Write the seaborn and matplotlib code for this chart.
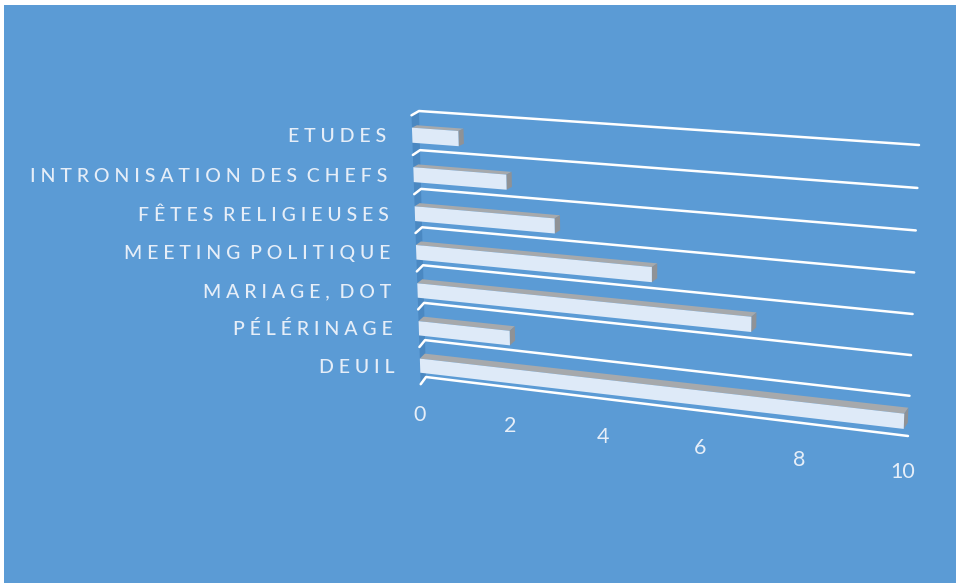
import numpy as np
import matplotlib
matplotlib.use("Agg")
import matplotlib.pyplot as plt
from matplotlib.patches import Polygon
from matplotlib.transforms import Affine2D, Transform
import seaborn as sns

# Chart data
categories = ["ETUDES", "INTRONISATION DES CHEFS", "FÊTES RELIGIEUSES",
              "MEETING POLITIQUE", "MARIAGE, DOT", "PÉLÉRINAGE", "DEUIL"]
values = [1, 2, 3, 5, 7, 2, 10]
value_ticks = [0, 2, 4, 6, 8, 10]

# Colours
BACKGROUND = "#5B9BD5"
SIDE_WALL = "#4A88C2"
FACE = "#DEEAF8"
TOP_FACE = "#A6A9AC"
END_FACE = "#8F9296"
TEXT = "#E6EEF8"
WIDTH, HEIGHT = 956, 583
BAR_WIDTH = 0.38
VALUE_MAX = 10
ROW_TOP, ROW_BOTTOM = -0.5, len(categories) - 0.5


class PlaneProjection(Transform):
    """Perspective mapping of (value, row) onto a plane given by its four corners."""
    input_dims = output_dims = 2
    is_separable = False
    has_inverse = False

    def __init__(self, corners):
        super().__init__()
        src = [(0, ROW_TOP), (VALUE_MAX, ROW_TOP), (VALUE_MAX, ROW_BOTTOM), (0, ROW_BOTTOM)]
        rows, rhs = [], []
        for (x, y), (X, Y) in zip(src, corners):
            rows.append([x, y, 1, 0, 0, 0, -x * X, -y * X])
            rows.append([0, 0, 0, x, y, 1, -x * Y, -y * Y])
            rhs += [X, Y]
        h = np.linalg.solve(np.array(rows, float), np.array(rhs, float))
        self.matrix = np.append(h, 1).reshape(3, 3)

    def transform_non_affine(self, points):
        points = np.asarray(points, float)
        homog = np.column_stack([points, np.ones(len(points))]) @ self.matrix.T
        return homog[:, :2] / homog[:, 2:3]


# Planes of the box, in pixels measured from the top left corner of the figure
to_display = Affine2D().scale(1, -1).translate(0, HEIGHT)
front_plane = PlaneProjection([(411.5, 115.3), (913.4, 150.7), (903.3, 441.3), (420.7, 384.2)])
depth_plane = PlaneProjection([(416.5, 113.0), (918.9, 148.7), (907.3, 434.8), (425.7, 378.9)])
wall_plane = PlaneProjection([(419, 111), (919, 145), (908, 436), (426, 377)])
front_tf = front_plane + to_display
depth_tf = depth_plane + to_display
wall_tf = wall_plane + to_display

sns.set_style("white")
plt.rcParams["font.family"] = ["Lato", "DejaVu Sans"]

fig = plt.figure(figsize=(WIDTH / 100, HEIGHT / 100), dpi=100, facecolor="white")
ax = fig.add_axes([4 / WIDTH, 0, 1 - 4 / WIDTH, 1 - 5 / HEIGHT], facecolor=BACKGROUND)

# Front faces of the bars, re-projected onto the front plane below
sns.barplot(x=values, y=categories, orient="h", color=FACE, saturation=1,
            width=BAR_WIDTH, errorbar=None, linewidth=0, ax=ax, zorder=4)
for bar in ax.patches:
    bar.set_transform(front_tf)
    bar.set_clip_on(False)

ax.set(xlabel="", ylabel="", xticks=[], yticks=[])
sns.despine(ax=ax, left=True, bottom=True)

# Side wall running from the front plane back to the grid wall
rows_edge = np.array([ROW_TOP, ROW_BOTTOM])
left_edge = np.column_stack([np.zeros(2), rows_edge])
side = np.vstack([front_tf.transform(left_edge), wall_tf.transform(left_edge)[::-1]])
ax.add_patch(Polygon(side, closed=True, transform=None, facecolor=SIDE_WALL,
                     edgecolor="none", zorder=1))

# Grid lines on the wall, each with a short step towards the front
for row in np.arange(len(categories) + 1) + ROW_TOP:
    start = front_tf.transform([(0, row)])[0]
    corner = wall_tf.transform([(0, row)])[0]
    end = wall_tf.transform([(VALUE_MAX, row)])[0]
    path = np.vstack([start, corner, end])
    ax.plot(path[:, 0], path[:, 1], transform=None, color="white", lw=1.8,
            solid_joinstyle="round", solid_capstyle="round", zorder=2)

# Top and end faces of the bars
for row, value in enumerate(values):
    top_edge = row - BAR_WIDTH / 2
    low_edge = row + BAR_WIDTH / 2
    front_top = front_tf.transform([(0, top_edge), (value, top_edge)])
    back_top = depth_tf.transform([(0, top_edge), (value, top_edge)])
    ax.add_patch(Polygon(np.vstack([front_top, back_top[::-1]]), closed=True, transform=None,
                         facecolor=TOP_FACE, edgecolor="none", zorder=3))
    end_front = front_tf.transform([(value, top_edge), (value, low_edge)])
    end_back = depth_tf.transform([(value, top_edge), (value, low_edge)])
    ax.add_patch(Polygon(np.vstack([end_front, end_back[::-1]]), closed=True, transform=None,
                         facecolor=END_FACE, edgecolor="none", zorder=3))


def letterspaced(label):
    """Open up the tracking of a label with four-per-em spaces between its letters."""
    return "\u2005 ".join("\u2005".join(word) for word in label.split(" "))


# Category labels beside the front plane
label_tf = front_tf + Affine2D().translate(-26, -7)
for row, name in enumerate(categories):
    ax.text(0, row, letterspaced(name), transform=label_tf, ha="right", va="baseline",
            color=TEXT, fontsize=14, fontweight="medium", clip_on=False)

# Value labels under the front plane
tick_tf = front_tf + Affine2D().translate(-1, -31)
for tick in value_ticks:
    ax.text(tick, ROW_BOTTOM, str(tick), transform=tick_tf, ha="center", va="center",
            color=TEXT, fontsize=15.5, clip_on=False)

fig.savefig("out.png", dpi=100, facecolor="white")
